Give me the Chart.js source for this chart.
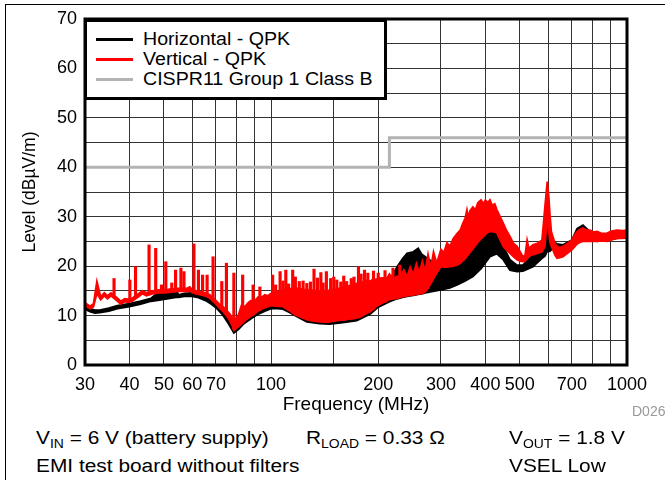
<!DOCTYPE html>
<html>
<head>
<meta charset="utf-8">
<script src="https://cdn.jsdelivr.net/npm/chart.js@4.4.1/dist/chart.umd.min.js"></script>
<style>
    body { margin: 0; width: 665px; height: 480px; overflow: hidden; position: relative; background: #fff;
           font-family: "Liberation Sans", Arial, sans-serif; color: #000; }
    #frame { position: absolute; left: 5px; top: 4px; width: 700px; height: 520px;
             border-top: 1px solid #000; border-left: 1px solid #000; }
    #wrap { position: absolute; left: 0; top: 0; width: 665px; height: 420px; }
    #legend { position: absolute; left: 84px; top: 19px; width: 297px; height: 75px;
              border: 3px solid #000; background: #fff; }
    .leg-line { position: absolute; left: 9px; width: 37px; height: 3px; }
    .leg-text { position: absolute; left: 56px; font-size: 17.5px; line-height: 20px; white-space: nowrap;
                transform: scaleX(1.12); transform-origin: left center; }
    .note { position: absolute; font-size: 18px; line-height: 22px; white-space: nowrap;
            transform: scaleX(1.16); transform-origin: left center; }
    .note sub { font-size: 12px; vertical-align: -4px; line-height: 0; }
    #code { position: absolute; left: 632px; top: 403px; font-size: 14px; color: #999; white-space: nowrap; }
</style>
</head>
<body>
<div id="frame"></div>
<div id="wrap"><canvas id="emiChart" width="665" height="420"></canvas></div>
<div id="legend"></div>
<div id="code">D026</div>
<div class="note" style="left:36px; top:427px;">V<sub>IN</sub> = 6 V (battery supply)</div>
<div class="note" style="left:306px; top:427px;">R<sub>LOAD</sub> = 0.33 Ω</div>
<div class="note" style="left:509px; top:427px;">V<sub>OUT</sub> = 1.8 V</div>
<div class="note" style="left:36px; top:455px;">EMI test board without filters</div>
<div class="note" style="left:509px; top:455px;">VSEL Low</div>

<script>
// Frekuensi (MHz) dan level (dBµV/m)
const xTickLabels = [30, 40, 50, 60, 70, 100, 200, 300, 400, 500, 700, 1000];
const yTickLabels = [0, 10, 20, 30, 40, 50, 60, 70];

// Horizontal - QPK : batas atas dan bawah pita derau
const horizFreq = [30, 31, 32, 33, 35, 37, 40, 43, 46, 48, 50, 52, 54, 55, 57, 60, 62, 64, 66, 68, 70, 73, 76, 78.6, 81, 84, 88, 92, 96, 100,
    104, 108, 113, 118, 126, 137, 146, 159, 174, 190, 200, 215, 226, 234, 241, 251, 259, 265, 271, 285, 300, 318, 333, 351, 369, 389,
    412, 431, 449, 469, 491, 510, 544, 577, 588, 597, 607, 619, 636, 661, 700, 724, 752, 787, 824, 879, 937, 1000];
const horizUpper = [11.9, 11.4, 11.1, 11.1, 11.5, 12.0, 12.4, 12.9, 13.5, 14.6, 14.6, 15.3, 15.3, 14.2, 14.5, 14.6, 14.4, 13.9, 13.6, 13.0, 12.4, 11.0, 9.2, 7.5, 8.2, 9.4, 10.4, 11.2, 11.8, 12.2,
    12.6, 12.4, 11.8, 11.0, 9.9, 9.6, 9.5, 9.8, 10.4, 11.7, 13.5, 17.0, 19.9, 21.5, 22.6, 22.9, 23.6, 22.4, 21.9, 20.8, 19.9, 20.5, 21.3, 23.2, 25.0, 26.2,
    27.3, 26.7, 24.0, 21.3, 20.2, 20.2, 22.3, 22.9, 26.0, 29.4, 26.0, 25.0, 24.5, 24.3, 25.3, 27.6, 28.3, 27.0, 26.6, 26.4, 26.8, 27.0];
const horizLower = [11.3, 10.8, 10.5, 10.6, 10.9, 11.4, 11.8, 12.3, 12.9, 13.1, 13.3, 13.5, 13.7, 13.7, 13.9, 13.9, 13.7, 13.3, 12.9, 12.3, 11.6, 10.2, 8.3, 6.5, 7.2, 8.4, 9.4, 10.3, 10.9, 11.4,
    11.4, 11.3, 10.6, 9.8, 8.7, 8.4, 8.3, 8.6, 9.0, 10.3, 11.7, 12.8, 13.4, 13.7, 13.9, 14.1, 14.3, 14.4, 14.6, 14.9, 15.2, 15.6, 16.2, 17.0, 17.9, 19.5,
    21.9, 22.5, 21.3, 19.2, 18.9, 19.0, 19.9, 21.6, 22.0, 23.0, 23.0, 23.6, 23.8, 23.7, 24.7, 25.5, 26.0, 25.5, 25.0, 25.3, 25.6, 25.8];

// Vertical - QPK : pita (atas/bawah) tanpa spike
const vertFreq = [30, 31, 31.7, 32.4, 33.2, 34, 34.7, 35.5, 36.9, 37.8, 38.8, 39.6, 40.7, 42.4, 43.5, 44.6, 46.4, 48.3, 49.9, 51.6,
    53.2, 54.8, 56.4, 58, 59.1, 59.9, 61.6, 63.4, 65.2, 67.3, 70, 71.4, 73.8, 76.2, 77.5, 78.6, 79.7, 81, 82.5, 84.5,
    86, 87.5, 90.5, 92, 94.5, 96, 98, 100, 103, 108, 112, 117, 123, 129, 135, 140, 145, 150, 157, 160,
    165, 171, 179, 183, 187, 190, 194, 197, 204, 212, 215, 220, 226, 230, 236, 241, 246, 251, 256, 261,
    266, 271, 276, 281, 286, 292, 300, 306, 312, 318, 325, 333, 340, 345, 351, 355, 358, 362, 369, 375,
    381, 389, 395, 400, 406, 412, 418, 425, 431, 440, 449, 458, 469, 480, 491, 500, 510, 517, 524, 530,
    544, 560, 577, 588, 597, 603, 607, 613, 619, 628, 636, 648, 661, 680, 700, 712, 724, 737, 752, 770,
    787, 805, 824, 850, 879, 905, 937, 970, 1000];
const vertUpper = [12.6, 11.9, 12.4, 16.9, 13.8, 14.6, 14.0, 14.6, 13.6, 12.9, 13.4, 13.3, 13.5, 14.4, 15.0, 14.6, 15.0, 15.2, 15.2, 15.3,
    15.4, 15.5, 15.5, 15.5, 15.8, 15.3, 15.0, 14.8, 14.6, 14.2, 13.0, 12.4, 11.6, 10.5, 9.8, 8.0, 9.5, 10.2, 12.0, 11.8,
    12.5, 13.0, 13.2, 13.8, 13.8, 14.2, 14.0, 14.5, 14.6, 15.2, 15.4, 15.6, 15.3, 15.2, 15.0, 15.0, 15.1, 15.2, 15.6, 15.8,
    16.0, 16.4, 16.6, 17.0, 17.2, 16.9, 17.5, 17.3, 17.6, 17.6, 18.4, 17.4, 18.0, 17.6, 19.2, 17.9, 19.8, 18.3, 20.5, 18.6,
    21.0, 19.0, 22.4, 19.6, 22.9, 20.6, 23.4, 22.8, 24.7, 24.0, 25.6, 26.6, 27.3, 28.5, 29.7, 31.4, 29.8, 31.2, 32.0, 31.4,
    32.8, 33.4, 32.6, 33.4, 32.8, 33.4, 32.3, 32.6, 31.4, 30.0, 28.7, 27.3, 26.0, 24.6, 24.0, 23.0, 21.9, 22.2, 25.3, 23.6,
    24.3, 24.6, 25.3, 32.0, 37.1, 34.0, 30.7, 27.0, 26.0, 24.6, 24.0, 23.8, 24.0, 24.6, 25.3, 26.3, 27.0, 27.4, 27.7, 27.3,
    27.3, 26.9, 27.0, 26.6, 26.7, 27.1, 27.3, 27.2, 27.3];
const vertLower = [12.0, 11.4, 11.8, 14.5, 13.2, 14.0, 13.4, 14.0, 13.0, 12.3, 12.8, 12.7, 12.9, 13.8, 14.4, 14.0, 14.4, 14.6, 14.6, 14.7,
    14.8, 14.9, 14.9, 14.9, 15.0, 14.7, 14.4, 14.2, 14.0, 13.5, 12.3, 11.6, 10.6, 9.2, 8.2, 7.0, 7.4, 7.8, 8.3, 9.0,
    9.4, 9.8, 10.5, 10.9, 11.4, 11.6, 11.8, 12.0, 11.9, 11.8, 11.1, 10.1, 9.5, 9.0, 8.8, 8.7, 8.7, 8.9, 9.1, 9.1,
    9.3, 9.4, 9.8, 10.2, 10.6, 10.8, 11.3, 11.8, 12.4, 13.0, 13.2, 13.4, 13.5, 13.7, 13.9, 14.0, 14.1, 14.2, 14.3, 14.4,
    14.5, 14.8, 15.5, 16.5, 17.5, 18.6, 19.9, 19.8, 19.8, 19.9, 20.0, 20.2, 20.6, 21.0, 21.5, 22.0, 22.3, 22.8, 23.5, 24.2,
    24.8, 25.5, 26.0, 26.4, 26.8, 27.0, 27.0, 26.9, 26.7, 25.3, 24.0, 23.3, 22.6, 21.9, 21.3, 21.0, 20.9, 21.0, 21.5, 22.0,
    22.3, 22.6, 22.9, 24.0, 30.0, 27.0, 25.0, 24.0, 23.3, 22.2, 21.6, 21.7, 21.9, 22.6, 23.3, 23.9, 24.5, 24.8, 25.0, 25.0,
    25.0, 25.0, 25.0, 25.1, 25.0, 25.3, 25.6, 25.6, 25.7];

// Vertical - QPK : spike sempit (frekuensi, dasar, puncak)
const vertSpikeFreq = [36.2, 40.1, 41.6, 45.4, 47.4, 49.2, 50.6, 52.6, 53.9, 55.8, 56.9, 60.7, 62.5, 64.2, 66.1, 68.7, 72.7, 74.9, 78.6, 83.2,
    89, 93, 101, 103, 106, 108, 110, 112, 115, 117, 120, 123, 126, 129, 132, 135, 138, 140, 143, 147,
    150, 153, 157, 160, 163, 168, 171, 176, 179, 183, 187, 194, 200, 209, 220, 230];
const vertSpikeBase = [14.0, 12.9, 13.6, 14.4, 14.6, 14.6, 14.6, 14.8, 14.8, 14.9, 14.9, 14.6, 14.4, 14.2, 13.9, 13.0, 11.3, 10.3, 7.2, 8.5,
    10.1, 11.1, 12.0, 11.9, 11.8, 11.8, 11.5, 11.1, 10.5, 10.1, 9.8, 9.5, 9.1, 9.0, 8.9, 8.8, 8.8, 8.7, 8.7, 8.8,
    8.9, 9.0, 9.1, 9.1, 9.2, 9.3, 9.4, 9.5, 9.8, 10.2, 10.6, 11.3, 12.1, 12.7, 13.4, 13.7];
const vertSpikeTop = [17.5, 17.2, 19.9, 24.3, 23.6, 16.2, 20.9, 16.6, 19.2, 19.6, 18.9, 24.5, 19.2, 18.2, 18.2, 21.9, 16.9, 20.6, 18.6, 18.2,
    16.2, 15.8, 18.2, 16.2, 18.9, 17.0, 19.2, 16.4, 19.2, 17.8, 16.9, 17.0, 16.5, 16.8, 19.4, 17.6, 18.7, 16.6, 18.9, 17.5,
    17.8, 17.2, 16.8, 18.0, 16.9, 17.5, 17.8, 19.9, 18.4, 19.2, 18.6, 19.0, 18.6, 19.1, 19.6, 20.2];

// CISPR11 Group 1 Class B
const limitFreq = [30, 215, 215, 1000];
const limitLevel = [40, 40, 46, 46];

function toPoints(freqs, levels) {
    return freqs.map((f, i) => ({ x: f, y: levels[i] }));
}

// Kotak tebal di sekeliling area grafik
const framePlugin = {
    id: 'plotFrame',
    afterDatasetsDraw(chart) {
        const a = chart.chartArea;
        const ctx = chart.ctx;
        ctx.save();
        ctx.strokeStyle = '#000';
        ctx.lineWidth = 3;
        ctx.strokeRect(a.left, a.top, a.right - a.left, a.bottom - a.top);
        ctx.restore();
    }
};

Chart.defaults.font.family = '"Liberation Sans", Arial, sans-serif';
Chart.defaults.color = '#000';

const ctx = document.getElementById('emiChart').getContext('2d');
const emiChart = new Chart(ctx, {
    type: 'line',
    data: {
        datasets: [{
            label: 'CISPR11 Group 1 Class B',
            legendLabel: 'CISPR11 Group 1 Class B',
            data: toPoints(limitFreq, limitLevel),
            borderColor: '#b3b3b3',
            borderWidth: 3,
            fill: false
        }, {
            type: 'bar',
            label: 'Vertical - QPK (spike)',
            data: vertSpikeFreq.map((f, i) => ({ x: f, y: [vertSpikeBase[i], vertSpikeTop[i]] })),
            backgroundColor: '#ff0000',
            borderWidth: 0,
            barThickness: 2.5
        }, {
            label: 'Vertical - QPK',
            legendLabel: 'Vertical - QPK',
            data: toPoints(vertFreq, vertUpper),
            borderColor: '#ff0000',
            borderWidth: 1.8,
            fill: false
        }, {
            label: 'Vertical - QPK (dasar)',
            data: toPoints(vertFreq, vertLower),
            borderColor: '#ff0000',
            backgroundColor: '#ff0000',
            borderWidth: 1.8,
            fill: '-1'
        }, {
            label: 'Horizontal - QPK',
            legendLabel: 'Horizontal - QPK',
            data: toPoints(horizFreq, horizUpper),
            borderColor: '#000',
            borderWidth: 1.8,
            fill: false
        }, {
            label: 'Horizontal - QPK (dasar)',
            data: toPoints(horizFreq, horizLower),
            borderColor: '#000',
            backgroundColor: '#000',
            borderWidth: 1.8,
            fill: '-1'
        }]
    },
    options: {
        responsive: false,
        animation: false,
        layout: { padding: { left: 16, right: 38, top: 19, bottom: 0 } },
        elements: { point: { radius: 0 }, line: { tension: 0 } },
        plugins: { legend: { display: false }, tooltip: { enabled: false } },
        scales: {
            x: {
                type: 'logarithmic',
                min: 30,
                max: 1000,
                offset: false,
                grid: { color: '#333', lineWidth: 1, drawTicks: false, offset: false },
                border: { display: false },
                ticks: {
                    autoSkip: false,
                    maxRotation: 0,
                    padding: 9,
                    font: { size: 18 },
                    callback: function(value) {
                        let v = Math.round(value);
                        return xTickLabels.includes(v) ? String(v) : '';
                    }
                },
                title: { display: true, text: 'Frequency (MHz)', font: { size: 19 }, padding: { top: 0, bottom: 4 } },
                afterFit: function(scale) {
                    scale.height = 55;
                    scale.paddingLeft = 0;
                    scale.paddingRight = 0;
                }
            },
            y: {
                min: 0,
                max: 70,
                grid: { color: '#333', lineWidth: 1, drawTicks: false },
                border: { display: false },
                ticks: {
                    stepSize: 5,
                    padding: 8,
                    font: { size: 18 },
                    callback: function(value) {
                        return yTickLabels.includes(value) ? String(value) : '';
                    }
                },
                title: { display: true, text: 'Level (dBµV/m)', font: { size: 17.5 }, padding: { top: 4, bottom: 0 } },
                afterFit: function(scale) {
                    scale.width = 69;
                    scale.paddingTop = 0;
                    scale.paddingBottom = 0;
                }
            }
        }
    },
    plugins: [framePlugin]
});

// Legenda di dalam area grafik, urutan seperti gambar
const legendBox = document.getElementById('legend');
const legendOrder = [4, 2, 0];
legendOrder.forEach(function(idx, i) {
    let ds = emiChart.data.datasets[idx];
    let line = document.createElement('div');
    line.className = 'leg-line';
    line.style.top = (16 + i * 20) + 'px';
    line.style.background = ds.borderColor;
    legendBox.appendChild(line);
    let text = document.createElement('div');
    text.className = 'leg-text';
    text.style.top = (7 + i * 20) + 'px';
    text.textContent = ds.legendLabel;
    legendBox.appendChild(text);
});
</script>
</body>
</html>
